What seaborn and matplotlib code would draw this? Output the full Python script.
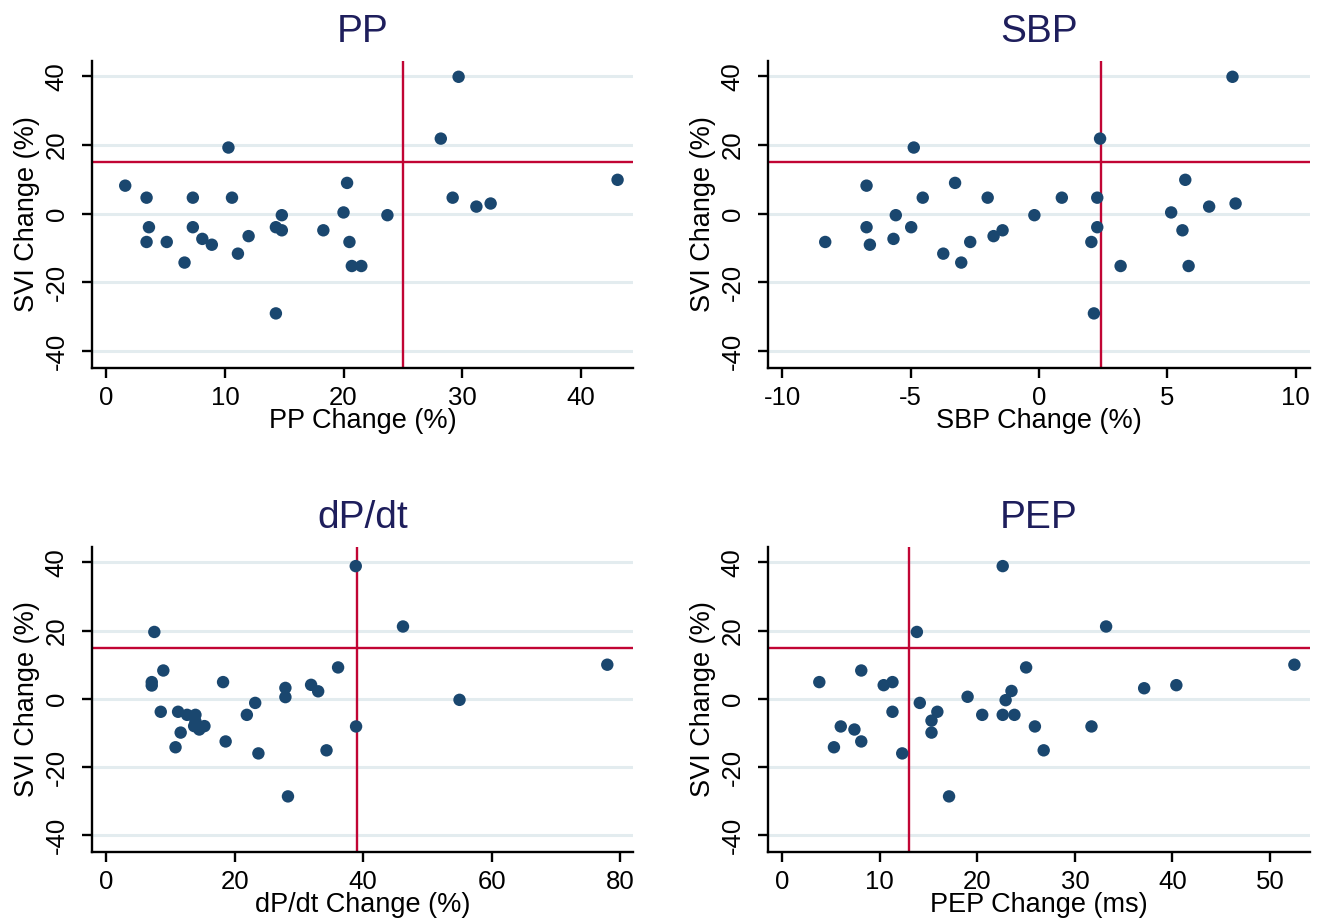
import numpy as np
import pandas as pd
import matplotlib
matplotlib.use("Agg")
import matplotlib.pyplot as plt
import seaborn as sns

# ---------------- data ----------------
pp_x = [1.6, 3.4, 3.6, 3.4, 5.1, 6.6, 7.3, 7.3, 8.1, 8.9, 10.3, 10.6, 11.1, 12.0, 14.3, 14.8,
        14.8, 14.3, 18.3, 20.0, 20.3, 20.5, 20.7, 21.5, 23.7, 28.2, 29.7, 29.2, 31.2, 32.4, 43.1]
pp_y = [8.2, 4.7, -3.9, -8.2, -8.2, -14.2, 4.7, -3.9, -7.3, -9.0, 19.3, 4.7, -11.6, -6.5, -3.9, -4.8,
        -0.4, -29.0, -4.8, 0.4, 9.0, -8.2, -15.2, -15.2, -0.4, 21.9, 39.9, 4.7, 2.1, 3.0, 9.9]

sbp_x = [-8.33, -6.72, -6.72, -6.59, -5.67, -5.58, -4.98, -4.88, -4.53, -3.73, -3.27, -3.03, -2.68,
         -2.0, -1.77, -1.42, -0.18, 0.89, 2.04, 2.14, 2.27, 2.27, 2.38, 3.18, 5.15, 5.59, 5.7, 5.83,
         6.63, 7.54, 7.66]
sbp_y = [-8.2, 8.2, -3.9, -9.0, -7.3, -0.4, -3.9, 19.3, 4.7, -11.6, 9.0, -14.2, -8.2, 4.7, -6.5,
         -4.8, -0.4, 4.7, -8.2, -29.0, 4.7, -3.9, 21.9, -15.2, 0.4, -4.8, 9.9, -15.2, 2.1, 39.9, 3.0]

dpdt_x = [38.85, 7.5, 46.2, 78.0, 8.9, 7.1, 7.1, 18.2, 27.9, 27.9, 31.9, 33.0, 36.1, 55.0, 23.2,
          21.9, 8.5, 11.2, 12.6, 13.9, 13.7, 14.5, 15.3, 11.6, 10.8, 18.6, 23.7, 34.3, 38.9, 28.3, 13.9]
dpdt_y = [38.9, 19.6, 21.2, 10.0, 8.3, 4.9, 3.9, 4.9, 3.2, 0.5, 4.1, 2.2, 9.2, -0.3, -1.2,
          -4.7, -3.8, -3.8, -4.7, -4.7, -8.0, -9.0, -8.0, -9.9, -14.2, -12.5, -16.0, -15.1, -8.1, -28.6, -6.6]

pep_x = [22.6, 13.8, 33.2, 52.5, 8.1, 3.8, 10.4, 11.3, 25.0, 37.1, 40.4, 19.0, 14.1, 22.9, 23.5,
         11.3, 15.9, 15.3, 15.3, 20.5, 22.6, 23.8, 25.9, 31.7, 6.0, 7.4, 8.1, 5.3, 12.3, 26.8, 17.1]
pep_y = [38.9, 19.6, 21.2, 10.0, 8.3, 4.9, 4.0, 4.9, 9.2, 3.1, 4.0, 0.6, -1.2, -0.4, 2.3,
         -3.8, -3.8, -6.4, -9.9, -4.7, -4.7, -4.7, -8.1, -8.1, -8.1, -9.0, -12.5, -14.2, -16.0, -15.1, -28.6]

titles = ["PP", "SBP", "dP/dt", "PEP"]
xlabels = ["PP Change (%)", "SBP Change (%)", "dP/dt Change (%)", "PEP Change (ms)"]
ylabel = "SVI Change (%)"
xticks_list = [[0, 10, 20, 30, 40], [-10, -5, 0, 5, 10], [0, 20, 40, 60, 80], [0, 10, 20, 30, 40, 50]]
yticks = [-40, -20, 0, 20, 40]
cutoff_x = [25, 2.4, 39, 13]
cutoff_y = 15

# ---------------- styling ----------------
sns.set_theme(style="ticks")
plt.rcParams['font.family'] = ['Liberation Sans', 'DejaVu Sans']
plt.rcParams['axes.unicode_minus'] = False

W, H = 1321, 921
fig = plt.figure(figsize=(W / 100, H / 100), dpi=100)
fig.patch.set_facecolor("white")

# pixel boxes (left, right, top, bottom)
boxes = [(92, 633, 61, 368), (768, 1310, 61, 368), (92, 633, 547, 852), (768, 1310, 547, 852)]
xlims = [(-1.2, 44.4), (-10.56, 10.56), (-2.2, 82.0), (-1.46, 54.1)]
ylim = (-44.9, 44.5)

navy = "#1a476f"
red = "#c10534"
grid_c = "#e3ecef"

xs = [pp_x, sbp_x, dpdt_x, pep_x]
ys = [pp_y, sbp_y, dpdt_y, pep_y]

for i in range(4):
    l, r, t, b = boxes[i]
    ax = fig.add_axes([l / W, (H - b) / H, (r - l) / W, (b - t) / H])
    ax.set_facecolor("white")
    df = pd.DataFrame({"x": xs[i], "y": ys[i]})
    ax.set_xlim(*xlims[i])
    ax.set_ylim(*ylim)
    ax.set_yticks(yticks)
    ax.set_xticks(xticks_list[i])
    ax.yaxis.grid(True, color=grid_c, linewidth=2.2, zorder=0)
    ax.set_axisbelow(True)
    ax.axvline(cutoff_x[i], color=red, linewidth=1.7, zorder=2)
    ax.axhline(cutoff_y, color=red, linewidth=1.7, zorder=2)
    sns.scatterplot(data=df, x="x", y="y", ax=ax, color=navy, s=80, edgecolor="none",
                    linewidth=0, zorder=3, legend=False)
    for s in ["top", "right"]:
        ax.spines[s].set_visible(False)
    for s in ["left", "bottom"]:
        ax.spines[s].set_color("black")
        ax.spines[s].set_linewidth(1.7)
    ax.tick_params(axis="both", direction="out", length=7.2, width=1.7, color="black",
                   labelcolor="black", labelsize=18.5, left=True, bottom=True)
    ax.tick_params(axis="x", pad=5.5)
    ax.tick_params(axis="y", pad=9.7)
    for lbl in ax.get_yticklabels():
        lbl.set_rotation(90)
        lbl.set_va("center")
    ax.set_title(titles[i], fontsize=28, color="#1e1e5c", pad=13.5)
    ax.set_xlabel(xlabels[i], fontsize=19.5, color="black")
    ax.set_ylabel(ylabel, fontsize=19.5, color="black")
    ax.xaxis.set_label_coords(0.5, -(421 - 368) / 307)
    ax.xaxis.label.set_va("center")
    ax.yaxis.set_label_coords(-65 / (r - l), 0.5)
    ax.yaxis.label.set_va("center")

fig.savefig("out.png", dpi=100, facecolor="white")
